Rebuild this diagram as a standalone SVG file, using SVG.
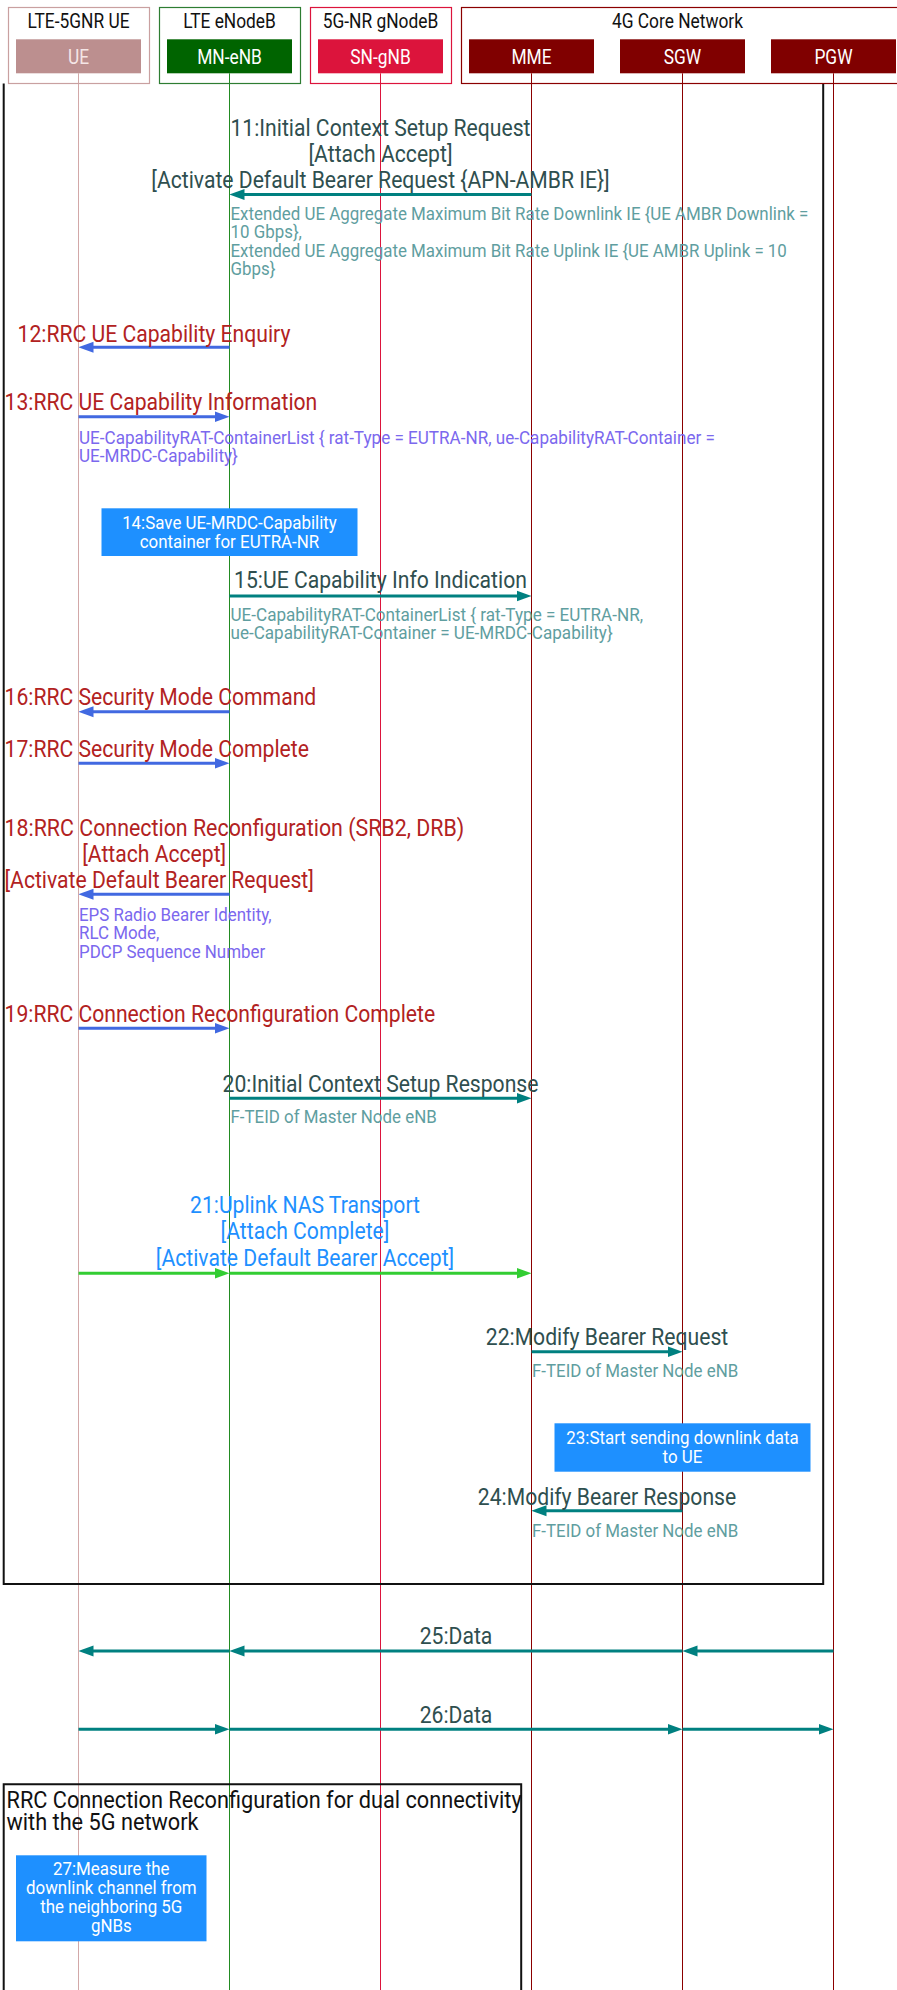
<svg xmlns="http://www.w3.org/2000/svg" width="897" height="1990" viewBox="0 0 897 1990">
<style>
.t{font-family:Roboto,"Liberation Sans",sans-serif}
.m{font-size:23.5px}
.d{font-size:19px}
.h{font-size:19.5px}
.mid{text-anchor:middle}
.ds{fill:#2f4f4f}
.fb{fill:#b22222}
.cb{fill:#5f9ea0}
.msb{fill:#7b68ee}
.db{fill:#1e90ff}
.wt{fill:#ffffff}
.bk{fill:#111111}
.ll{stroke-width:1;fill:none}
.teal{stroke:#008080;stroke-width:3;fill:none;marker-end:url(#ah-teal)}
.blue{stroke:#4169e1;stroke-width:3;fill:none;marker-end:url(#ah-blue)}
.green{stroke:#32cd32;stroke-width:3;fill:none;marker-end:url(#ah-green)}
.frame{stroke:#111111;stroke-width:2;fill:none}
.note{fill:#1e90ff}
.grp{fill:none;stroke-width:1.2}
</style>
<defs>
<marker id="ah-teal" markerUnits="userSpaceOnUse" markerWidth="15" markerHeight="12" viewBox="0 0 15 12" refX="5" refY="6" orient="auto"><path d="M0,0.5 L15,6 L0,11.5 z" fill="#008080"/></marker>
<marker id="ah-blue" markerUnits="userSpaceOnUse" markerWidth="15" markerHeight="12" viewBox="0 0 15 12" refX="5" refY="6" orient="auto"><path d="M0,0.5 L15,6 L0,11.5 z" fill="#4169e1"/></marker>
<marker id="ah-green" markerUnits="userSpaceOnUse" markerWidth="15" markerHeight="12" viewBox="0 0 15 12" refX="5" refY="6" orient="auto"><path d="M0,0.5 L15,6 L0,11.5 z" fill="#32cd32"/></marker>
</defs>
<rect x="0" y="0" width="897" height="1990" fill="#ffffff"/>

<g id="lifelines">
<line class="ll" x1="78.5" y1="73.3" x2="78.5" y2="1990" stroke="#d2a8a8"/>
<line class="ll" x1="229.5" y1="73.3" x2="229.5" y2="1990" stroke="#228b22"/>
<line class="ll" x1="380.5" y1="73.3" x2="380.5" y2="1990" stroke="#dc143c"/>
<line class="ll" x1="531.5" y1="73.3" x2="531.5" y2="1990" stroke="#8b0000"/>
<line class="ll" x1="682.5" y1="73.3" x2="682.5" y2="1990" stroke="#8b0000"/>
<line class="ll" x1="833.5" y1="73.3" x2="833.5" y2="1990" stroke="#8b0000"/>
</g>

<g id="frame-main">
<path class="frame" d="M3.7,83.5 V1584 H823.2 V83.5"/>
</g>

<g id="grp-ue">
<rect class="grp" x="8.5" y="7.5" width="141" height="76" stroke="#c9a0a0"/>
<text class="t h mid bk" transform="translate(78.5 27.5) scale(.89 1)">LTE-5GNR UE</text>
</g>
<g id="grp-enb">
<rect class="grp" x="159.5" y="7.5" width="141" height="76" stroke="#2e7d32"/>
<text class="t h mid bk" transform="translate(229.5 27.5) scale(.89 1)">LTE eNodeB</text>
</g>
<g id="grp-gnb">
<rect class="grp" x="310.5" y="7.5" width="141" height="76" stroke="#dc143c"/>
<text class="t h mid bk" transform="translate(380.5 27.5) scale(.89 1)">5G-NR gNodeB</text>
</g>
<g id="grp-core">
<rect class="grp" x="461.5" y="7.5" width="443" height="76" stroke="#8b0000"/>
<text class="t h mid bk" transform="translate(677.5 27.5) scale(.89 1)">4G Core Network</text>
</g>

<g id="UE">
<rect x="16" y="39.3" width="125" height="34" fill="#bc8f8f"/>
<text class="t h mid" fill="#f5e6e6" transform="translate(78.5 63.5) scale(.89 1)">UE</text>
</g>
<g id="MN-eNB">
<rect x="167" y="39.3" width="125" height="34" fill="#006400"/>
<text class="t h mid wt" transform="translate(229.5 63.5) scale(.89 1)">MN-eNB</text>
</g>
<g id="SN-gNB">
<rect x="318" y="39.3" width="125" height="34" fill="#dc143c"/>
<text class="t h mid wt" transform="translate(380.5 63.5) scale(.89 1)">SN-gNB</text>
</g>
<g id="MME">
<rect x="469" y="39.3" width="125" height="34" fill="#800000"/>
<text class="t h mid wt" transform="translate(531.5 63.5) scale(.89 1)">MME</text>
</g>
<g id="SGW">
<rect x="620" y="39.3" width="125" height="34" fill="#800000"/>
<text class="t h mid wt" transform="translate(682.5 63.5) scale(.89 1)">SGW</text>
</g>
<g id="PGW">
<rect x="771" y="39.3" width="125" height="34" fill="#800000"/>
<text class="t h mid wt" transform="translate(833.5 63.5) scale(.89 1)">PGW</text>
</g>

<g id="connectors">
<line class="teal" x1="531.5" y1="194.5" x2="239.5" y2="194.5"/>
<line class="blue" x1="229.5" y1="347.3" x2="88.5" y2="347.3"/>
<line class="blue" x1="78.5" y1="416.7" x2="219.5" y2="416.7"/>
<line class="teal" x1="229.5" y1="596" x2="521.5" y2="596"/>
<line class="blue" x1="229.5" y1="711.7" x2="88.5" y2="711.7"/>
<line class="blue" x1="78.5" y1="763.3" x2="219.5" y2="763.3"/>
<line class="blue" x1="229.5" y1="894.3" x2="88.5" y2="894.3"/>
<line class="blue" x1="78.5" y1="1028.3" x2="219.5" y2="1028.3"/>
<line class="teal" x1="229.5" y1="1098.3" x2="521.5" y2="1098.3"/>
<line class="green" x1="78.5" y1="1273.3" x2="219.5" y2="1273.3"/>
<line class="green" x1="229.5" y1="1273.3" x2="521.5" y2="1273.3"/>
<line class="teal" x1="531.5" y1="1351.7" x2="672.5" y2="1351.7"/>
<line class="teal" x1="682.5" y1="1510.7" x2="541.5" y2="1510.7"/>
<line class="teal" x1="833.5" y1="1651" x2="692.5" y2="1651"/>
<line class="teal" x1="682.5" y1="1651" x2="239.5" y2="1651"/>
<line class="teal" x1="229.5" y1="1651" x2="88.5" y2="1651"/>
<line class="teal" x1="78.5" y1="1729.3" x2="219.5" y2="1729.3"/>
<line class="teal" x1="229.5" y1="1729.3" x2="672.5" y2="1729.3"/>
<line class="teal" x1="682.5" y1="1729.3" x2="823.5" y2="1729.3"/>
</g>

<g id="labels">
<text class="t m mid ds" transform="translate(380.5 136) scale(.9 1)"><tspan x="0" y="0">11:Initial Context Setup Request</tspan><tspan x="0" dy="26">[Attach Accept]</tspan><tspan x="0" dy="26">[Activate Default Bearer Request {APN-AMBR IE}]</tspan></text>
<text class="t d cb" transform="translate(230.5 220) scale(.89 1)"><tspan x="0" y="0">Extended UE Aggregate Maximum Bit Rate Downlink IE {UE AMBR Downlink =</tspan><tspan x="0" dy="18.3">10 Gbps},</tspan><tspan x="0" dy="18.3">Extended UE Aggregate Maximum Bit Rate Uplink IE {UE AMBR Uplink = 10</tspan><tspan x="0" dy="18.3">Gbps}</tspan></text>

<text class="t m mid fb" transform="translate(154 342.3) scale(.9 1)">12:RRC UE Capability Enquiry</text>

<text class="t m fb" transform="translate(4.5 410) scale(.9 1)">13:RRC UE Capability Information</text>
<text class="t d msb" transform="translate(79 444) scale(.9 1)"><tspan x="0" y="0">UE-CapabilityRAT-ContainerList { rat-Type = EUTRA-NR, ue-CapabilityRAT-Container =</tspan><tspan x="0" dy="18.3">UE-MRDC-Capability}</tspan></text>

<text class="t m mid ds" transform="translate(380.5 588.3) scale(.9 1)">15:UE Capability Info Indication</text>
<text class="t d cb" transform="translate(230.5 621) scale(.9 1)"><tspan x="0" y="0">UE-CapabilityRAT-ContainerList { rat-Type = EUTRA-NR,</tspan><tspan x="0" dy="18.3">ue-CapabilityRAT-Container = UE-MRDC-Capability}</tspan></text>

<text class="t m fb" transform="translate(4.5 705) scale(.9 1)">16:RRC Security Mode Command</text>
<text class="t m fb" transform="translate(4.5 756.7) scale(.9 1)">17:RRC Security Mode Complete</text>

<text class="t m fb" transform="translate(4.5 836) scale(.91 1)">18:RRC Connection Reconfiguration (SRB2, DRB)</text>
<text class="t m mid fb" transform="translate(154.2 862.3) scale(.9 1)">[Attach Accept]</text>
<text class="t m fb" transform="translate(4.5 888.3) scale(.9 1)">[Activate Default Bearer Request]</text>
<text class="t d msb" transform="translate(79 920.7) scale(.89 1)"><tspan x="0" y="0">EPS Radio Bearer Identity,</tspan><tspan x="0" dy="18.5">RLC Mode,</tspan><tspan x="0" dy="18.5">PDCP Sequence Number</tspan></text>

<text class="t m fb" transform="translate(4.5 1021.7) scale(.9 1)">19:RRC Connection Reconfiguration Complete</text>

<text class="t m mid ds" transform="translate(380.5 1091.7) scale(.9 1)">20:Initial Context Setup Response</text>
<text class="t d cb" transform="translate(230.5 1123.3) scale(.89 1)">F-TEID of Master Node eNB</text>

<text class="t m mid db" transform="translate(305 1213.3) scale(.9 1)"><tspan x="0" y="0">21:Uplink NAS Transport</tspan><tspan x="0" dy="26.2">[Attach Complete]</tspan><tspan x="0" dy="26.2">[Activate Default Bearer Accept]</tspan></text>

<text class="t m mid ds" transform="translate(607 1345) scale(.9 1)">22:Modify Bearer Request</text>
<text class="t d cb" transform="translate(532 1376.7) scale(.89 1)">F-TEID of Master Node eNB</text>

<text class="t m mid ds" transform="translate(607 1505) scale(.9 1)">24:Modify Bearer Response</text>
<text class="t d cb" transform="translate(532 1536.7) scale(.89 1)">F-TEID of Master Node eNB</text>

<text class="t m mid ds" transform="translate(456 1644) scale(.9 1)">25:Data</text>
<text class="t m mid ds" transform="translate(456 1723.3) scale(.9 1)">26:Data</text>
</g>

<g id="note-14">
<rect class="note" x="101.5" y="508.3" width="256" height="47.7"/>
<text class="t d mid wt" transform="translate(229.5 529) scale(.89 1)"><tspan x="0" y="0">14:Save UE-MRDC-Capability</tspan><tspan x="0" dy="18.6">container for EUTRA-NR</tspan></text>
</g>

<g id="note-23">
<rect class="note" x="554.5" y="1423.3" width="256" height="48.4"/>
<text class="t d mid wt" transform="translate(682.5 1444) scale(.89 1)"><tspan x="0" y="0">23:Start sending downlink data</tspan><tspan x="0" dy="18.6">to UE</tspan></text>
</g>

<g id="frame-dc">
<path class="frame" d="M3.7,1990 V1784.3 H521.2 V1990"/>
<text class="t bk" font-size="23" transform="translate(6.5 1807.5) scale(.945 1)"><tspan x="0" y="0">RRC Connection Reconfiguration for dual connectivity</tspan><tspan x="0" dy="22.2">with the 5G network</tspan></text>
</g>

<g id="note-27">
<rect class="note" x="16" y="1855.3" width="190.5" height="86"/>
<text class="t d mid wt" transform="translate(111.3 1875) scale(.89 1)"><tspan x="0" y="0">27:Measure the</tspan><tspan x="0" dy="19">downlink channel from</tspan><tspan x="0" dy="19">the neighboring 5G</tspan><tspan x="0" dy="19">gNBs</tspan></text>
</g>
</svg>
